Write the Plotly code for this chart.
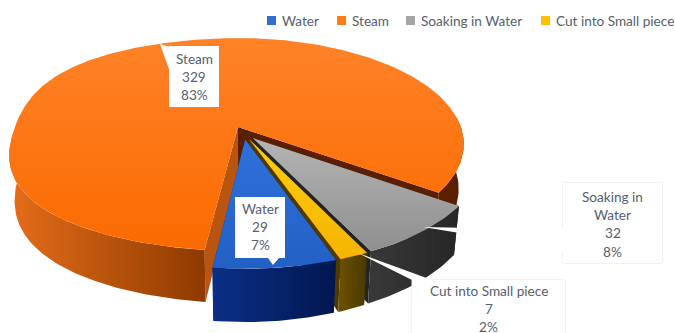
import math
import plotly.graph_objects as go

# Chart values
categories = ["Water", "Steam", "Soaking in Water", "Cut into Small piece"]
values = [29, 329, 32, 7]

# Styling per slice: top colour pair (far, near), wall, side gradient (left, right)
top_colors = [("#2F70DC", "#2360C4"), ("#FF8228", "#FB6A00"), ("#B4B4B4", "#8F8F8F"), ("#FFCC10", "#F5B400")]
wall_colors = ["#0B2A78", "#B9550F", "#242424", "#4E3A00"]
side_colors = [("#0B2F86", "#021650"), ("#E06A18", "#8E3A00"), ("#383838", "#262626"), ("#6A5000", "#4A3800")]
legend_colors = ["#2F6FD0", "#FF7A1A", "#A5A5A5", "#FFC000"]
legend_x = [267, 337, 406, 541]
TEXT = "#56606E"
FONT = "Lato"
FONT_SIZE = 13.6

# Projection of the unit disc onto the page (perspective view from above)
CX, CY, RA, RB, PERSP = 243.6, 133.0, 225.0, 105.5, 0.165
EXPLODE, DEPTH, BASE_SHRINK = 0.062, 44.0, 0.977
FIRST_ANGLE = 160.4
LEFT_SQUARENESS = 0.15


def project(u, v, lower=False):
    w = 1 + PERSP * v
    x = RA * u / w
    y = -RB * v / w
    if lower:
        return CX + x * BASE_SHRINK, CY + y + DEPTH / w
    return CX + x, CY + y


def rim(center, angle):
    a = math.radians(angle)
    s, c = math.sin(a), math.cos(a)
    # The left-hand rim reads slightly squarer than a true circle
    q = 1 - LEFT_SQUARENESS * max(0.0, -s)
    s = math.copysign(abs(s) ** q, s)
    c = math.copysign(abs(c) ** q, c)
    return center[0] + s, center[1] + c


def arc(center, a0, a1, lower=False):
    n = max(2, int(abs(a1 - a0)) + 1)
    pts = [rim(center, a0 + (a1 - a0) * i / (n - 1)) for i in range(n)]
    return [project(u, v, lower) for u, v in pts]


def poly(pts, color=None, gradient=None):
    xs = [p[0] for p in pts] + [pts[0][0]]
    ys = [p[1] for p in pts] + [pts[0][1]]
    trace = dict(x=xs, y=ys, mode="lines", fill="toself", line=dict(width=0),
                 hoverinfo="skip", showlegend=False)
    if gradient:
        kind, c0, c1, start, stop = gradient
        trace["fillgradient"] = dict(type=kind, colorscale=[[0, c0], [1, c1]], start=start, stop=stop)
    else:
        trace["fillcolor"] = color
    fig.add_trace(go.Scatter(**trace))


fig = go.Figure()

# Slice geometry derived from the values
total = sum(values)
spans = [v / total * 360 for v in values]
slices = []
angle = FIRST_ANGLE
for span in spans:
    mid = math.radians(angle + span / 2)
    slices.append(dict(a0=angle, a1=angle + span,
                       center=(EXPLODE * math.sin(mid), EXPLODE * math.cos(mid))))
    angle += span

# Paint back to front: steam, soaking, cut pieces, water
for i in [1, 2, 3, 0]:
    s = slices[i]
    c, a0, a1 = s["center"], s["a0"], s["a1"]
    apex, apex_low = project(*c), project(*c, lower=True)

    # Radial walls exposed by the exploded wedges
    for a in (a0, a1):
        rim_top = project(*rim(c, a))
        rim_low = project(*rim(c, a), lower=True)
        color = wall_colors[i]
        if i == 1 and a == a1:
            color = "#5A1E00"
        poly([apex, rim_top, rim_low, apex_low], color)

    # Outer cylinder wall, only where it faces the viewer
    if i == 1:
        top = arc(c, a0, 275)
        low = arc(c, a0, 275, True)
        poly(top + low[::-1], gradient=("horizontal", "#8E3A00", "#E06A18", top[0][0], top[-1][0]))
        top = arc(c, 85, a1 - 360)
        low = arc(c, 85, a1 - 360, True)
        poly(top + low[::-1], "#5A1E00")
    else:
        top = arc(c, a0, a1)
        low = arc(c, a0, a1, True)
        xs = sorted(p[0] for p in top)
        poly(top + low[::-1], gradient=("horizontal", side_colors[i][0], side_colors[i][1], xs[0], xs[-1]))

    # Top face
    face = [apex] + arc(c, a0, a1)
    ys = sorted(p[1] for p in face)
    poly(face, gradient=("vertical", top_colors[i][0], top_colors[i][1], ys[0], ys[-1]))

# Data labels: box rectangle, callout tail and centred text lines
labels = [
    dict(i=0, box=(235, 197, 285, 258), tail=[(268, 258), (273, 265), (279, 258)],
         lines=["Water"], y0=209, edge=None),
    dict(i=1, box=(169, 46, 219, 107), tail=[(170, 72), (160, 44), (170, 47)],
         lines=["Steam"], y0=59, edge=None),
    dict(i=2, box=(563, 183, 662, 263), tail=[(563, 230), (423, 227), (563, 250)],
         lines=["Soaking in", "Water"], y0=197, edge="#E4E4E4"),
    dict(i=3, box=(412, 280, 565, 345), tail=[(412, 280), (358, 253), (432, 280)],
         lines=["Cut into Small piece"], y0=291, edge="#E4E4E4"),
]
annotations = []
for lab in labels:
    x0, y0, x1, y1 = lab["box"]
    rect = [(x0, y0), (x1, y0), (x1, y1), (x0, y1)]
    if lab["edge"]:
        fig.add_trace(go.Scatter(x=[p[0] for p in rect] + [x0], y=[p[1] for p in rect] + [y0],
                                 mode="lines", line=dict(width=1, color=lab["edge"]),
                                 hoverinfo="skip", showlegend=False))
    poly(rect, "#FFFFFF")
    poly(lab["tail"], "#FFFFFF")
    value = values[lab["i"]]
    pct = f"{value / total * 100:.0f}%"
    for k, line in enumerate(lab["lines"] + [str(value), pct]):
        annotations.append(dict(x=(x0 + x1) / 2, y=lab["y0"] + k * 18.2, text=line, xref="x", yref="y",
                                showarrow=False, xanchor="center", yanchor="middle",
                                font=dict(family=FONT, size=FONT_SIZE, color=TEXT)))

# Legend row across the top
shapes = []
for name, color, x in zip(categories, legend_colors, legend_x):
    shapes.append(dict(type="rect", xref="x", yref="y", x0=x, x1=x + 9, y0=16, y1=25,
                       fillcolor=color, line=dict(width=0)))
    annotations.append(dict(x=x + 13, y=20.5, text=name, xref="x", yref="y", showarrow=False,
                            xanchor="left", yanchor="middle",
                            font=dict(family=FONT, size=FONT_SIZE, color=TEXT)))

fig.update_layout(
    width=675, height=333, margin=dict(l=0, r=0, t=0, b=0),
    paper_bgcolor="white", plot_bgcolor="white", showlegend=False,
    xaxis=dict(range=[0, 675], visible=False, fixedrange=True),
    yaxis=dict(range=[333, 0], visible=False, fixedrange=True),
    annotations=annotations, shapes=shapes,
)
fig.write_html("out.html", config=dict(displayModeBar=False))
